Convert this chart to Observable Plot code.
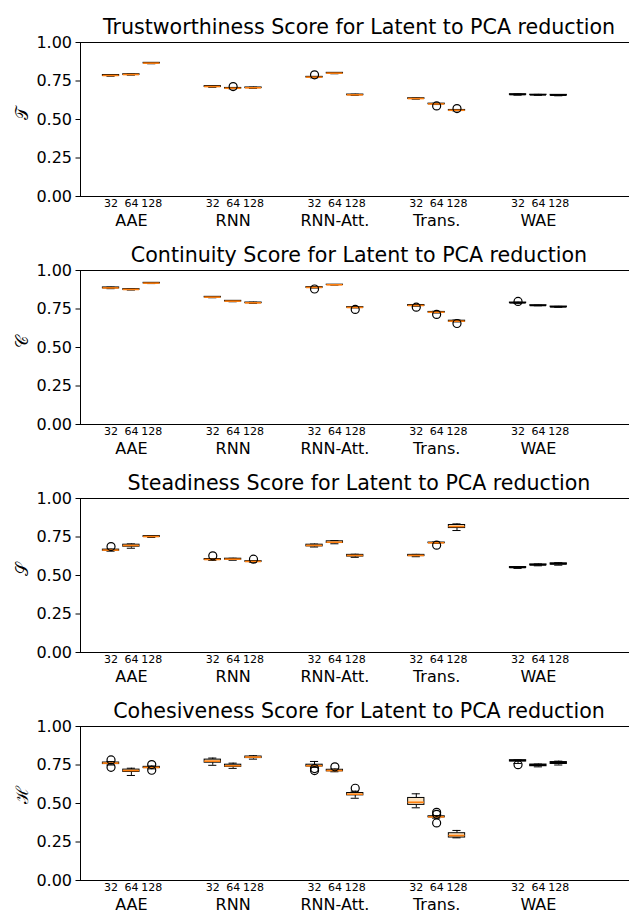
<!DOCTYPE html>
<html>
<head>
<meta charset="utf-8">
<script src="https://cdn.jsdelivr.net/npm/d3@7"></script>
<script src="https://cdn.jsdelivr.net/npm/@observablehq/plot@0.6"></script>
<style>
  html, body { margin: 0; padding: 0; background: #fff; }
  #chart { width: 629px; height: 913px; overflow: hidden; position: relative; }
  #chart svg { display: block; }
</style>
</head>
<body>
<div id="chart"></div>
<script>
// ---- data ----
const models = ["AAE", "RNN", "RNN-Att.", "Trans.", "WAE"];
const dims = ["32", "64", "128"];
const titles = [
  "Trustworthiness Score for Latent to PCA reduction",
  "Continuity Score for Latent to PCA reduction",
  "Steadiness Score for Latent to PCA reduction",
  "Cohesiveness Score for Latent to PCA reduction"
];
const yLabels = ["\u{1D4AF}", "\u{1D49E}", "\u{1D4AE}", "\u210B"];
const yTicks = [0, 0.25, 0.5, 0.75, 1];

// [whisker low, q1, median, q3, whisker high], order: models x dims
const trustStats = [
  [0.781, 0.783, 0.786, 0.789, 0.791], [0.788, 0.790, 0.792, 0.794, 0.796], [0.862, 0.864, 0.866, 0.868, 0.870],
  [0.709, 0.711, 0.714, 0.717, 0.719], [0.699, 0.701, 0.703, 0.705, 0.707], [0.702, 0.704, 0.706, 0.708, 0.710],
  [0.771, 0.773, 0.775, 0.777, 0.779], [0.797, 0.799, 0.801, 0.803, 0.805], [0.656, 0.658, 0.660, 0.662, 0.664],
  [0.632, 0.634, 0.636, 0.638, 0.640], [0.597, 0.599, 0.601, 0.603, 0.605], [0.556, 0.558, 0.560, 0.562, 0.564],
  [0.658, 0.660, 0.662, 0.664, 0.666], [0.657, 0.659, 0.660, 0.661, 0.663], [0.654, 0.656, 0.658, 0.660, 0.662]
];
const trustOutliers = [[4, 0.714], [6, 0.790], [10, 0.588], [11, 0.571]];

const contStats = [
  [0.882, 0.884, 0.887, 0.890, 0.892], [0.873, 0.875, 0.877, 0.879, 0.881], [0.915, 0.916, 0.918, 0.920, 0.921],
  [0.823, 0.825, 0.827, 0.829, 0.831], [0.797, 0.799, 0.801, 0.803, 0.805], [0.786, 0.788, 0.790, 0.792, 0.794],
  [0.886, 0.888, 0.890, 0.892, 0.894], [0.905, 0.906, 0.907, 0.908, 0.909], [0.757, 0.759, 0.760, 0.762, 0.765],
  [0.768, 0.770, 0.773, 0.776, 0.779], [0.724, 0.727, 0.729, 0.731, 0.735], [0.666, 0.668, 0.671, 0.674, 0.678],
  [0.787, 0.789, 0.790, 0.792, 0.794], [0.771, 0.772, 0.773, 0.774, 0.775], [0.761, 0.762, 0.764, 0.766, 0.767]
];
const contOutliers = [[6, 0.880], [8, 0.747], [9, 0.762], [10, 0.715], [11, 0.656], [12, 0.799]];

const steadStats = [
  [0.658, 0.661, 0.665, 0.668, 0.671], [0.677, 0.687, 0.695, 0.700, 0.705], [0.747, 0.750, 0.753, 0.756, 0.759],
  [0.598, 0.601, 0.604, 0.607, 0.610], [0.599, 0.603, 0.606, 0.609, 0.612], [0.586, 0.589, 0.591, 0.593, 0.596],
  [0.685, 0.689, 0.695, 0.700, 0.704], [0.706, 0.711, 0.716, 0.722, 0.727], [0.618, 0.623, 0.630, 0.634, 0.638],
  [0.622, 0.626, 0.630, 0.634, 0.637], [0.708, 0.710, 0.712, 0.714, 0.717], [0.792, 0.808, 0.818, 0.828, 0.835],
  [0.546, 0.549, 0.552, 0.555, 0.558], [0.563, 0.566, 0.569, 0.572, 0.575], [0.567, 0.571, 0.576, 0.579, 0.583]
];
const steadOutliers = [[0, 0.688], [3, 0.628], [5, 0.606], [10, 0.697]];

const cohesStats = [
  [0.750, 0.756, 0.762, 0.766, 0.772], [0.682, 0.705, 0.714, 0.720, 0.729], [0.725, 0.730, 0.734, 0.738, 0.743],
  [0.748, 0.765, 0.775, 0.785, 0.795], [0.728, 0.738, 0.745, 0.752, 0.762], [0.788, 0.795, 0.801, 0.805, 0.810],
  [0.735, 0.740, 0.745, 0.752, 0.773], [0.706, 0.709, 0.714, 0.719, 0.724], [0.534, 0.553, 0.560, 0.568, 0.580],
  [0.472, 0.491, 0.508, 0.536, 0.563], [0.405, 0.410, 0.413, 0.417, 0.422], [0.277, 0.279, 0.292, 0.307, 0.325],
  [0.760, 0.773, 0.779, 0.781, 0.783], [0.738, 0.742, 0.749, 0.753, 0.756], [0.750, 0.757, 0.764, 0.769, 0.775]
];
const cohesOutliers = [[0, 0.783], [0, 0.735], [2, 0.753], [2, 0.716], [6, 0.714], [6, 0.727], [7, 0.738],
  [8, 0.599], [10, 0.443], [10, 0.430], [10, 0.374], [12, 0.752]];

const panelStats = [trustStats, contStats, steadStats, cohesStats];
const panelOutliers = [trustOutliers, contOutliers, steadOutliers, cohesOutliers];

// ---- layout helpers ----
const groupStep = 5;                   // distance between model groups (in box units)
const posOf = (g, d) => g * groupStep + d;
const boxHalf = 0.4, capHalf = 0.2;
const xDomain = [-1.5, 25.87];
const boxFill = g => (g === 4 ? "#111111" : "#fde3bf");
const medColor = g => (g === 4 ? "#000000" : "#ff7f0e");
const font = "DejaVu Sans, sans-serif";

function panel(i) {
  const boxes = panelStats[i].map((s, k) => {
    const g = Math.floor(k / 3), d = k % 3;
    return {g, d, x: posOf(g, d), lo: s[0], q1: s[1], med: s[2], q3: s[3], hi: s[4]};
  });
  const outs = panelOutliers[i].map(([k, v]) => ({x: posOf(Math.floor(k / 3), k % 3), v}));
  const tickPos = boxes.map(b => b.x);
  const tickLab = new Map(boxes.map(b => [b.x, dims[b.d]]));
  const groupCenters = models.map((m, g) => ({m, x: posOf(g, 1)}));

  return Plot.plot({
    width: 629, height: 228,
    marginLeft: 80, marginRight: -8, marginTop: 42, marginBottom: 32,
    x: {type: "linear", domain: xDomain, axis: null},
    y: {domain: [0, 1], axis: null},
    style: {background: "transparent", overflow: "visible", fontFamily: font, color: "#000"},
    marks: [
      // whiskers
      Plot.ruleX(boxes, {x: "x", y1: "lo", y2: "q1", stroke: "#000", strokeWidth: 1}),
      Plot.ruleX(boxes, {x: "x", y1: "q3", y2: "hi", stroke: "#000", strokeWidth: 1}),
      Plot.ruleY(boxes, {y: "lo", x1: d => d.x - capHalf, x2: d => d.x + capHalf, stroke: "#000", strokeWidth: 1}),
      Plot.ruleY(boxes, {y: "hi", x1: d => d.x - capHalf, x2: d => d.x + capHalf, stroke: "#000", strokeWidth: 1}),
      // boxes
      Plot.rect(boxes, {x1: d => d.x - boxHalf, x2: d => d.x + boxHalf, y1: "q1", y2: "q3",
        fill: d => boxFill(d.g), stroke: "#000", strokeWidth: 1}),
      // medians
      Plot.ruleY(boxes, {y: "med", x1: d => d.x - boxHalf, x2: d => d.x + boxHalf,
        stroke: d => medColor(d.g), strokeWidth: 1.6}),
      // fliers
      Plot.dot(outs, {x: "x", y: "v", r: 4, stroke: "#000", fill: "none", strokeWidth: 1.2}),
      // spines
      Plot.ruleX([xDomain[0]], {stroke: "#000", strokeWidth: 1}),
      Plot.ruleY([0, 1], {stroke: "#000", strokeWidth: 1}),
      // y axis
      Plot.axisY({ticks: yTicks, tickFormat: d3.format(".2f"), tickSize: 4.5, tickPadding: 4,
        fontSize: 16, stroke: "#000", label: null}),
      Plot.text([yLabels[i]], {frameAnchor: "left", dx: -58, rotate: -90, fontSize: 17,
        fontFamily: "DejaVu Serif, serif", fill: "#000"}),
      // x ticks (latent dims)
      Plot.axisX({ticks: tickPos, tickFormat: v => tickLab.get(v), tickSize: 0, tickPadding: 3,
        fontSize: 11, fill: "#000", label: null}),
      // model names
      Plot.text(groupCenters, {x: "x", text: "m", frameAnchor: "bottom", lineAnchor: "middle", dy: 24.5,
        fontSize: 16, fill: "#000"}),
      // title, centered on the axes frame
      Plot.text([titles[i]], {frameAnchor: "top", lineAnchor: "middle", dy: -15, fontSize: 20.6, fill: "#000"})
    ]
  });
}

const root = document.getElementById("chart");
for (let i = 0; i < 4; i++) root.appendChild(panel(i));
</script>
</body>
</html>
